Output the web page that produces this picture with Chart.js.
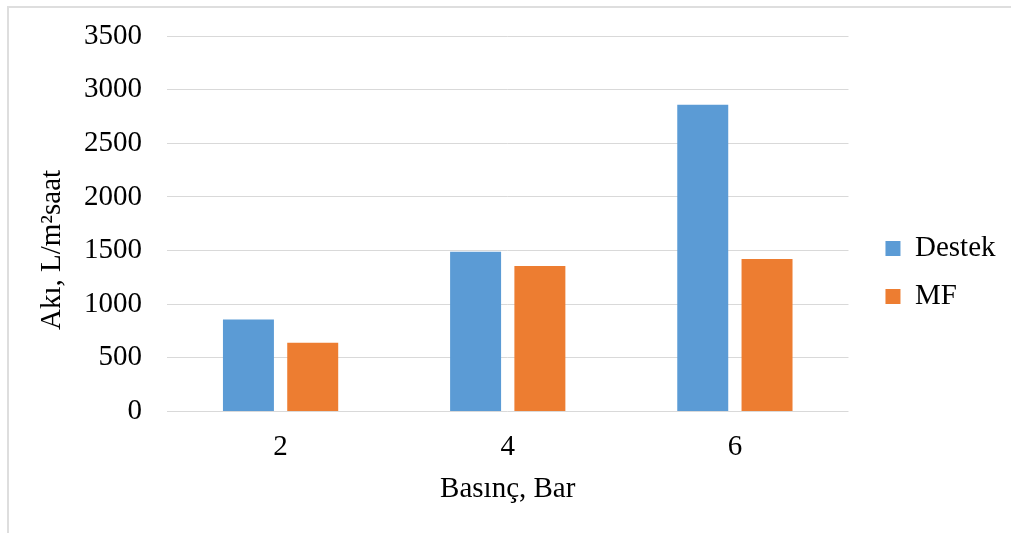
<!DOCTYPE html>
<html lang="tr">
<head>
    <meta charset="UTF-8">
    <title>Akı - Basınç</title>
    <script src="https://cdn.jsdelivr.net/npm/chart.js"></script>
    <style>
        body {
            margin: 0;
            background: #fff;
        }
        .frame {
            position: absolute;
            left: 7px;
            top: 6px;
            width: 1100px;
            height: 600px;
            border-left: 2px solid #dedede;
            border-top: 2px solid #dedede;
        }
        .wrap {
            position: absolute;
            left: 0;
            top: 0;
            width: 1011px;
            height: 533px;
        }
    </style>
</head>
<body>

    <div class="frame"></div>
    <div class="wrap"><canvas id="akiChart"></canvas></div>

    <script>
        const basinc = ["2", "4", "6"];
        const destek = [856, 1489, 2860];
        const mf = [640, 1355, 1422];
        const yTicks = [0, 500, 1000, 1500, 2000, 2500, 3000, 3500];

        const serif = "'Liberation Serif', 'Times New Roman', serif";
        Chart.defaults.font.family = serif;
        Chart.defaults.font.size = 29;
        Chart.defaults.color = "#000";

        // y ekseni başlığı (grafik alanına göre biraz aşağıda duruyor)
        const yTitle = {
            id: "yTitle",
            afterDraw(chart) {
                const ctx = chart.ctx;
                ctx.save();
                ctx.translate(60, 250);
                ctx.rotate(-Math.PI / 2);
                ctx.font = "29px " + serif;
                ctx.fillStyle = "#000";
                ctx.textAlign = "center";
                ctx.textBaseline = "alphabetic";
                ctx.fillText("Akı, L/m²saat", 0, 0);
                ctx.restore();
            }
        };

        const ctx = document.getElementById("akiChart").getContext("2d");
        new Chart(ctx, {
            type: "bar",
            data: {
                labels: basinc,
                datasets: [{
                    label: "Destek",
                    data: destek,
                    backgroundColor: "#5b9bd5",
                    categoryPercentage: 0.566,
                    barPercentage: 0.793
                }, {
                    label: "MF",
                    data: mf,
                    backgroundColor: "#ed7d31",
                    categoryPercentage: 0.566,
                    barPercentage: 0.793
                }]
            },
            options: {
                responsive: true,
                maintainAspectRatio: false,
                animation: false,
                layout: {
                    padding: { top: 36, bottom: 24, left: 0, right: 5.5 }
                },
                plugins: {
                    tooltip: { enabled: false },
                    legend: {
                        position: "right",
                        align: "center",
                        labels: {
                            boxWidth: 15,
                            boxHeight: 15,
                            padding: 19,
                            color: "#000"
                        }
                    }
                },
                scales: {
                    x: {
                        grid: { display: false, drawTicks: false },
                        border: { display: false },
                        ticks: { padding: 19 },
                        title: {
                            display: true,
                            text: "Basınç, Bar",
                            padding: { top: -12, bottom: 2 }
                        }
                    },
                    y: {
                        min: 0,
                        max: 3500,
                        afterBuildTicks: s => { s.ticks = yTicks.map(v => ({ value: v })); },
                        afterFit: s => { s.width = 167; },
                        grid: { color: "#d9d9d9", lineWidth: 1, drawTicks: false },
                        border: { display: false },
                        ticks: { padding: 25, font: { lineHeight: 0.76 }, callback: v => String(v) }
                    },
                    gap: {
                        type: "linear",
                        position: "right",
                        afterFit: s => { s.width = 18; },
                        grid: { display: false },
                        border: { display: false },
                        ticks: { display: false }
                    }
                }
            },
            plugins: [yTitle]
        });
    </script>

</body>
</html>
